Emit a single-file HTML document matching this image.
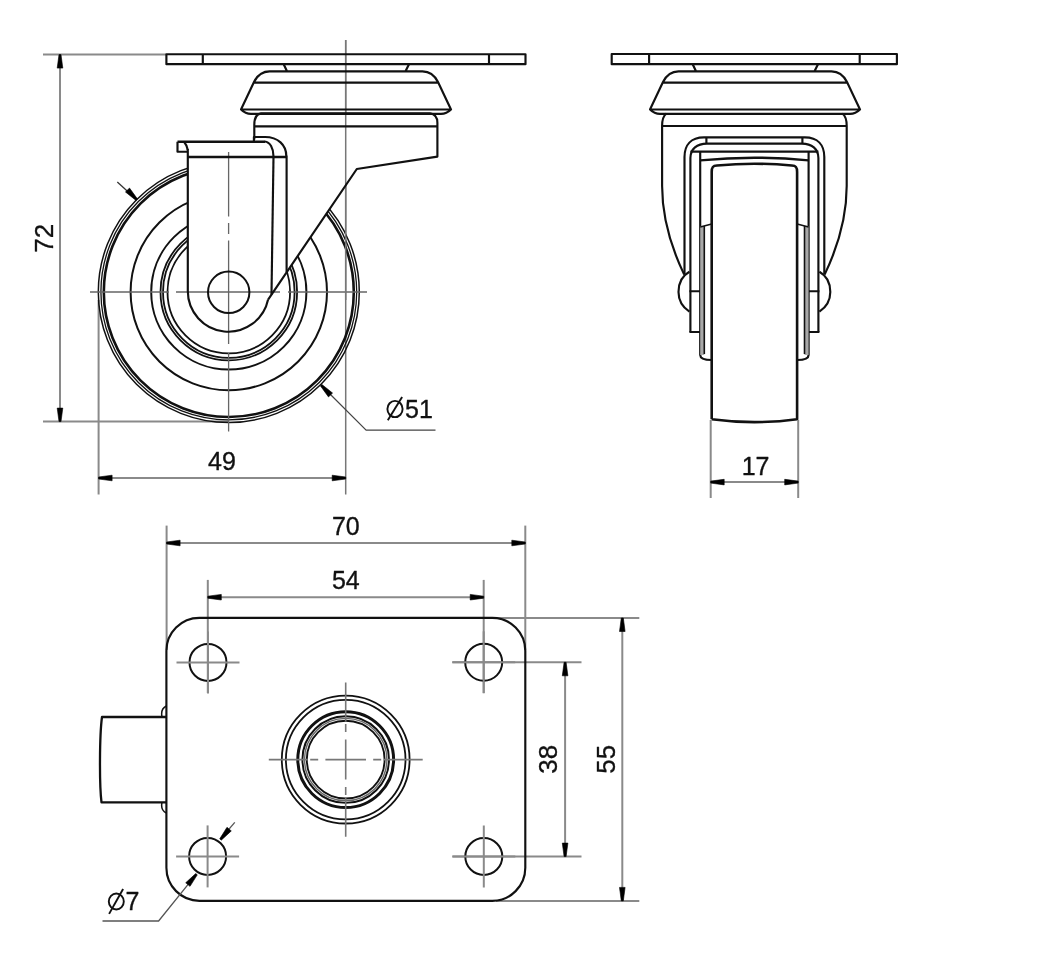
<!DOCTYPE html>
<html><head><meta charset="utf-8"><style>
html,body{margin:0;padding:0;background:#fff;}
svg{display:block;will-change:transform;}
text{font-family:"Liberation Sans",sans-serif;fill:#111;stroke:#111;stroke-width:0.35px;}
</style></head><body>
<svg width="1060" height="961" viewBox="0 0 1060 961" stroke-linecap="butt" stroke-linejoin="round">
<rect width="1060" height="961" fill="#fff"/>
<line x1="43" y1="54.6" x2="166" y2="54.6" stroke="#8a8a8a" stroke-width="2.0" />
<line x1="43" y1="421.6" x2="228" y2="421.6" stroke="#8a8a8a" stroke-width="2.0" />
<line x1="60" y1="54.6" x2="60" y2="421.6" stroke="#8a8a8a" stroke-width="2.0" />
<path d="M61.00,54.60 L62.80,68.10 L57.20,68.10 L59.00,54.60 Z" fill="#000" stroke="#000" stroke-width="0.6" stroke-linejoin="round"/>
<path d="M59.00,421.60 L57.20,408.10 L62.80,408.10 L61.00,421.60 Z" fill="#000" stroke="#000" stroke-width="0.6" stroke-linejoin="round"/>
<text x="53" y="238.3" font-size="26" text-anchor="middle" transform="rotate(-90 53 238.3)">72</text>
<line x1="98.6" y1="300" x2="98.6" y2="494.5" stroke="#8a8a8a" stroke-width="2.0" />
<line x1="345.7" y1="40" x2="345.7" y2="494.5" stroke="#777" stroke-width="1.5" />
<line x1="98.6" y1="478" x2="345.7" y2="478" stroke="#8a8a8a" stroke-width="2.0" />
<path d="M98.60,477.00 L112.10,475.20 L112.10,480.80 L98.60,479.00 Z" fill="#000" stroke="#000" stroke-width="0.6" stroke-linejoin="round"/>
<path d="M345.70,479.00 L332.20,480.80 L332.20,475.20 L345.70,477.00 Z" fill="#000" stroke="#000" stroke-width="0.6" stroke-linejoin="round"/>
<text x="222" y="470" font-size="25" text-anchor="middle">49</text>
<circle cx="228.8" cy="292.0" r="130.5" stroke="#111" stroke-width="1.5" fill="none" />
<circle cx="228.8" cy="292.0" r="127.9" stroke="#111" stroke-width="1.3" fill="none" />
<circle cx="228.8" cy="292.0" r="125.0" stroke="#111" stroke-width="2.6" fill="none" />
<circle cx="228.8" cy="292.0" r="98.2" stroke="#111" stroke-width="2.0" fill="none" />
<circle cx="228.8" cy="292.0" r="77.6" stroke="#111" stroke-width="2.0" fill="none" />
<circle cx="228.8" cy="292.0" r="68.3" stroke="#111" stroke-width="1.8" fill="none" />
<circle cx="228.8" cy="292.0" r="65.8" stroke="#111" stroke-width="1.8" fill="none" />
<circle cx="228.8" cy="292.0" r="61.3" stroke="#111" stroke-width="1.8" fill="none" />
<path d="M187.8,141 L187.8,291 A40.6,40.6 0 0 0 268.1,299.6 L356.8,169 L437.4,156.6 L437.4,113 L254,113 L254,139 Z" stroke="none" stroke-width="0" fill="#fff" />
<path d="M90,292.0 H169 M176,292.0 H280 M288,292.0 H367" stroke="#666" stroke-width="1.3" fill="none" />
<path d="M228.6,152 V216.5 M228.6,223 V234 M228.6,240.5 V344 M228.6,353 V431.5" stroke="#666" stroke-width="1.3" fill="none" />
<line x1="345.7" y1="40" x2="345.7" y2="300" stroke="#777" stroke-width="1.5" />
<path d="M166.4,54.2 H525.5 V64.2 H166.4 Z M202.8,54.2 V64.2 M489,54.2 V64.2" stroke="#111" stroke-width="2.15" fill="none" />
<path d="M-17.5,71.3 H135.5 C143,71.3 147.5,75 151,82 L164,109.5 H-46 L-33,82 C-29.5,75 -25,71.3 -17.5,71.3 Z M-33,82.6 H151 M-46,109.5 C-43,112.5 -40,113.9 -36,113.9 H154 C158,113.9 161,112.5 164,109.5 M-3.3,64.2 L0,71.3 M122,64.2 L118.5,71.3" stroke="#111" stroke-width="2.15" fill="none" transform="translate(287,0)"/>
<path d="M254.3,139.6 V125 C254.3,118 256,114 261,113.4 H430 C435,114 437.4,117 437.4,123 V156.6 L356.8,169 L268.1,299.6" stroke="#111" stroke-width="2.15" fill="none" />
<path d="M254.3,126.4 H437.4" stroke="#111" stroke-width="2.15" fill="none" />
<path d="M187.8,149 V291 A40.6,40.6 0 0 0 268.1,299.6" stroke="#111" stroke-width="2.15" fill="none" />
<path d="M187.8,157 H286.6" stroke="#111" stroke-width="2.4" fill="none" />
<path d="M273.5,156.4 L271.5,294.6" stroke="#111" stroke-width="2.15" fill="none" />
<path d="M286.6,155.7 V272" stroke="#111" stroke-width="2.15" fill="none" />
<path d="M177.5,141.8 H265" stroke="#111" stroke-width="2.5" fill="none" />
<path d="M253.9,141.5 V137 H265 C278,137 286.3,145 286.3,156" stroke="#111" stroke-width="2.15" fill="none" />
<path d="M264.7,141.5 C270,142 273.5,148 273.5,156.4" stroke="#111" stroke-width="2.15" fill="none" />
<path d="M177.5,141.8 V151.7 H187.8 M184,141.8 C185.5,143.5 187,146.5 187.8,150" stroke="#111" stroke-width="2.15" fill="none" />
<circle cx="228.7" cy="292.3" r="20.7" stroke="#111" stroke-width="2" fill="none" />
<line x1="117.3" y1="181.9" x2="134" y2="197.2" stroke="#333" stroke-width="1.3" />
<path d="M136.08,200.49 L125.46,191.96 L129.52,188.09 L137.52,199.11 Z" fill="#000" stroke="#000" stroke-width="0.6" stroke-linejoin="round"/>
<path d="M321.2,385.2 L366.1,430.1 H435.5" stroke="#444" stroke-width="1.3" fill="none" />
<path d="M321.92,384.51 L332.54,393.04 L328.48,396.91 L320.48,385.89 Z" fill="#000" stroke="#000" stroke-width="0.6" stroke-linejoin="round"/>
<ellipse cx="395" cy="409" rx="7.6" ry="8.1" stroke="#111" stroke-width="1.9" fill="none"/>
<line x1="387.8" y1="420.3" x2="402.1" y2="396.9" stroke="#111" stroke-width="1.9" />
<text x="405" y="418" font-size="25" text-anchor="start">51</text>
<path d="M611.7,54 H896.9 V64.2 H611.7 Z M649.1,54 V64.2 M859.7,54 V64.2" stroke="#111" stroke-width="2.15" fill="none" />
<path d="M-17.5,71.3 H135.5 C143,71.3 147.5,75 151,82 L164,109.5 H-46 L-33,82 C-29.5,75 -25,71.3 -17.5,71.3 Z M-33,82.6 H151 M-46,109.5 C-43,112.5 -40,113.9 -36,113.9 H154 C158,113.9 161,112.5 164,109.5 M-3.3,64.2 L0,71.3 M122,64.2 L118.5,71.3" stroke="#111" stroke-width="2.15" fill="none" transform="translate(696,0)"/>
<path d="M666.5,113.5 C663,116 662.1,120 662.1,126 V186 C662.1,215 670,245 684.2,274.6" stroke="#111" stroke-width="2.15" fill="none" />
<path d="M842.3,113.5 C845.8,116 846.7,120 846.7,126 V186 C846.7,215 838.8,245 824.6,274.6" stroke="#111" stroke-width="2.15" fill="none" />
<path d="M662.1,126 H846.7" stroke="#111" stroke-width="2.15" fill="none" />
<path d="M684.5,274 V157 C684.5,145 691,137.4 704,137.4 H804.8 C817.8,137.4 824.3,145 824.3,157 V274" stroke="#111" stroke-width="2.15" fill="none" />
<path d="M690.4,332 V158 C690.4,149 697,143.6 707,143.6 H801.8 C811.8,143.6 818.4,149 818.4,158 V332" stroke="#111" stroke-width="2.15" fill="none" />
<path d="M706.4,137.4 V143.6 M802.4,137.4 V143.6" stroke="#111" stroke-width="2.15" fill="none" />
<path d="M690.4,151.6 H818.4" stroke="#111" stroke-width="2.15" fill="none" />
<path d="M689.4,271.8 C680,277 678.5,286 678.5,292 C678.5,299 681,306 689.4,311.7 M689.4,291.2 H700.2 M689.4,332 H700.2" stroke="#111" stroke-width="2.15" fill="none" />
<path d="M819.4,271.8 C828.8,277 830.3,286 830.3,292 C830.3,299 827.8,306 819.4,311.7 M819.4,291.2 H808.6 M819.4,332 H808.6" stroke="#111" stroke-width="2.15" fill="none" />
<path d="M700.2,151.6 V355 C700.2,358 703,360 711.7,360" stroke="#111" stroke-width="2.15" fill="none" />
<rect x="700.2" y="226" width="4.1" height="129" fill="#a8a8a8"/>
<path d="M704.3,226 V354" stroke="#111" stroke-width="1.6" fill="none" />
<path d="M700.2,227 L711.7,224" stroke="#111" stroke-width="1.5" fill="none" />
<path d="M808.6,151.6 V355 C808.6,358 805.8,360 797.1,360" stroke="#111" stroke-width="2.15" fill="none" />
<rect x="804.5" y="226" width="4.1" height="129" fill="#a8a8a8"/>
<path d="M804.5,226 V354" stroke="#111" stroke-width="1.6" fill="none" />
<path d="M808.6,227 L797.1,224" stroke="#111" stroke-width="1.5" fill="none" />
<path d="M700.2,160.4 Q754.4,155 808.6,160.4" stroke="#111" stroke-width="2.4" fill="none" />
<path d="M711.7,419.2 V172 C711.7,167 713,165.8 717,165.5 Q754.4,162 791.8,165.5 C795.8,165.8 797.1,167 797.1,172 V419.2 Q754.4,425 711.7,419.2" stroke="#111" stroke-width="2.6" fill="none" />
<line x1="710.7" y1="420" x2="710.7" y2="498" stroke="#8a8a8a" stroke-width="2.0" />
<line x1="798.2" y1="420" x2="798.2" y2="498" stroke="#8a8a8a" stroke-width="2.0" />
<line x1="710.7" y1="482.1" x2="798.2" y2="482.1" stroke="#8a8a8a" stroke-width="2.0" />
<path d="M710.70,481.10 L724.20,479.30 L724.20,484.90 L710.70,483.10 Z" fill="#000" stroke="#000" stroke-width="0.6" stroke-linejoin="round"/>
<path d="M798.20,483.10 L784.70,484.90 L784.70,479.30 L798.20,481.10 Z" fill="#000" stroke="#000" stroke-width="0.6" stroke-linejoin="round"/>
<text x="755.6" y="474.9" font-size="25" text-anchor="middle">17</text>
<line x1="166.6" y1="525.6" x2="166.6" y2="650" stroke="#8a8a8a" stroke-width="2.0" />
<line x1="525.3" y1="525.6" x2="525.3" y2="650" stroke="#8a8a8a" stroke-width="2.0" />
<line x1="166.6" y1="543" x2="525.3" y2="543" stroke="#8a8a8a" stroke-width="2.0" />
<path d="M166.60,542.00 L180.10,540.20 L180.10,545.80 L166.60,544.00 Z" fill="#000" stroke="#000" stroke-width="0.6" stroke-linejoin="round"/>
<path d="M525.30,544.00 L511.80,545.80 L511.80,540.20 L525.30,542.00 Z" fill="#000" stroke="#000" stroke-width="0.6" stroke-linejoin="round"/>
<text x="345.8" y="535.4" font-size="25" text-anchor="middle">70</text>
<line x1="207.8" y1="579.9" x2="207.8" y2="693" stroke="#8a8a8a" stroke-width="2.0" />
<line x1="483.7" y1="579.9" x2="483.7" y2="693" stroke="#8a8a8a" stroke-width="2.0" />
<line x1="207.8" y1="597.2" x2="483.7" y2="597.2" stroke="#8a8a8a" stroke-width="2.0" />
<path d="M207.80,596.20 L221.30,594.40 L221.30,600.00 L207.80,598.20 Z" fill="#000" stroke="#000" stroke-width="0.6" stroke-linejoin="round"/>
<path d="M483.70,598.20 L470.20,600.00 L470.20,594.40 L483.70,596.20 Z" fill="#000" stroke="#000" stroke-width="0.6" stroke-linejoin="round"/>
<text x="345.8" y="588.5" font-size="25" text-anchor="middle">54</text>
<line x1="496" y1="618" x2="639.3" y2="618" stroke="#8a8a8a" stroke-width="2.0" />
<line x1="496" y1="900.9" x2="639.3" y2="900.9" stroke="#8a8a8a" stroke-width="2.0" />
<line x1="622.3" y1="618" x2="622.3" y2="900.9" stroke="#8a8a8a" stroke-width="2.0" />
<path d="M623.30,618.00 L625.10,631.50 L619.50,631.50 L621.30,618.00 Z" fill="#000" stroke="#000" stroke-width="0.6" stroke-linejoin="round"/>
<path d="M621.30,900.90 L619.50,887.40 L625.10,887.40 L623.30,900.90 Z" fill="#000" stroke="#000" stroke-width="0.6" stroke-linejoin="round"/>
<text x="615" y="759.3" font-size="26" text-anchor="middle" transform="rotate(-90 615 759.3)">55</text>
<line x1="452.5" y1="662.3" x2="581.5" y2="662.3" stroke="#8a8a8a" stroke-width="2.0" />
<line x1="452.5" y1="856.6" x2="581.5" y2="856.6" stroke="#8a8a8a" stroke-width="2.0" />
<line x1="565.1" y1="662.3" x2="565.1" y2="856.6" stroke="#8a8a8a" stroke-width="2.0" />
<path d="M566.10,662.30 L567.90,675.80 L562.30,675.80 L564.10,662.30 Z" fill="#000" stroke="#000" stroke-width="0.6" stroke-linejoin="round"/>
<path d="M564.10,856.60 L562.30,843.10 L567.90,843.10 L566.10,856.60 Z" fill="#000" stroke="#000" stroke-width="0.6" stroke-linejoin="round"/>
<text x="557.3" y="759.3" font-size="26" text-anchor="middle" transform="rotate(-90 557.3 759.3)">38</text>
<path d="M199.4,617.8 H492.29999999999995 A33,33 0 0 1 525.3,650.8 V867.8 A33,33 0 0 1 492.29999999999995,900.8 H199.4 A33,33 0 0 1 166.4,867.8 V650.8 A33,33 0 0 1 199.4,617.8 Z" stroke="#111" stroke-width="2.15" fill="none" />
<circle cx="208" cy="662.4" r="18.5" stroke="#111" stroke-width="2" fill="none" />
<line x1="176.5" y1="662.4" x2="239.5" y2="662.4" stroke="#8a8a8a" stroke-width="2.0" />
<line x1="208" y1="631.4" x2="208" y2="693.4" stroke="#8a8a8a" stroke-width="2.0" />
<circle cx="483.7" cy="662.3" r="18.5" stroke="#111" stroke-width="2" fill="none" />
<line x1="452.2" y1="662.3" x2="515.2" y2="662.3" stroke="#8a8a8a" stroke-width="2.0" />
<line x1="483.7" y1="631.3" x2="483.7" y2="693.3" stroke="#8a8a8a" stroke-width="2.0" />
<circle cx="207.6" cy="856.4" r="18.5" stroke="#111" stroke-width="2" fill="none" />
<line x1="176.1" y1="856.4" x2="239.1" y2="856.4" stroke="#8a8a8a" stroke-width="2.0" />
<line x1="207.6" y1="825.4" x2="207.6" y2="887.4" stroke="#8a8a8a" stroke-width="2.0" />
<circle cx="483.8" cy="856.5" r="18.5" stroke="#111" stroke-width="2" fill="none" />
<line x1="452.3" y1="856.5" x2="515.3" y2="856.5" stroke="#8a8a8a" stroke-width="2.0" />
<line x1="483.8" y1="825.5" x2="483.8" y2="887.5" stroke="#8a8a8a" stroke-width="2.0" />
<circle cx="345.7" cy="759.6" r="63.9" stroke="#111" stroke-width="1.8" fill="none" />
<circle cx="345.7" cy="759.6" r="59.8" stroke="#111" stroke-width="1.8" fill="none" />
<circle cx="345.7" cy="759.6" r="47.9" stroke="#111" stroke-width="3.0" fill="none" />
<circle cx="345.7" cy="759.6" r="43.3" stroke="#111" stroke-width="1.9" fill="none" />
<circle cx="345.7" cy="759.6" r="41.2" stroke="#666" stroke-width="1.4" fill="none" />
<circle cx="345.7" cy="759.6" r="38.9" stroke="#111" stroke-width="1.9" fill="none" />
<path d="M268.8,759.6 H307.7 M310.2,759.6 H318.2 M325.4,759.6 H366.0 M373.2,759.6 H381.2 M383.7,759.6 H422.7" stroke="#777" stroke-width="1.6" fill="none" />
<path d="M345.7,682.5 V721.6 M345.7,724.1 V732.1 M345.7,739.6 V779.6 M345.7,787.1 V795.1 M345.7,797.6 V836.7" stroke="#777" stroke-width="1.6" fill="none" />
<path d="M166.4,717 H102 C99.5,735 99.3,785 101.5,802.3 H166.4" stroke="#111" stroke-width="2.3" fill="none" />
<path d="M166.4,706 C162,708 161,712 162,717 M166.4,813 C162,811 161,807 162,802.3" stroke="#111" stroke-width="1.5" fill="none" />
<path d="M196,874.7 L158.6,921 H102.5" stroke="#555" stroke-width="1.3" fill="none" />
<path d="M197.27,874.84 L190.01,886.36 L185.71,882.78 L195.73,873.56 Z" fill="#000" stroke="#000" stroke-width="0.6" stroke-linejoin="round"/>
<line x1="234.8" y1="822.3" x2="223" y2="836" stroke="#555" stroke-width="1.3" />
<path d="M219.73,838.86 L226.99,827.34 L231.29,830.92 L221.27,840.14 Z" fill="#000" stroke="#000" stroke-width="0.6" stroke-linejoin="round"/>
<ellipse cx="116.3" cy="901.5" rx="7.5" ry="8.0" stroke="#111" stroke-width="1.9" fill="none"/>
<line x1="109.1" y1="913.9" x2="123.1" y2="889" stroke="#111" stroke-width="1.9" />
<text x="125.5" y="910.4" font-size="25" text-anchor="start">7</text>
</svg>
</body></html>
